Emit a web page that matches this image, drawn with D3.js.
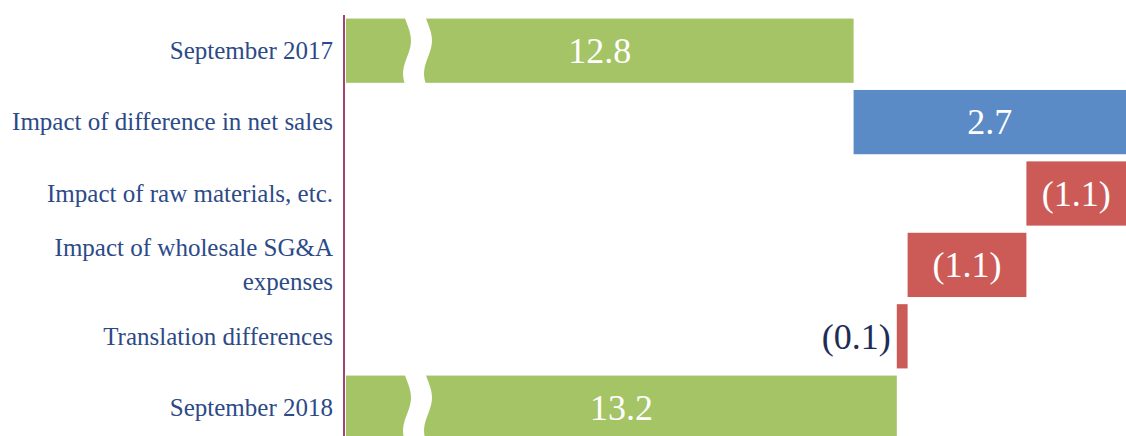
<!DOCTYPE html>
<html>
<head>
<meta charset="utf-8">
<script src="https://cdn.jsdelivr.net/npm/d3@7"></script>
<style>
  html, body { margin: 0; padding: 0; background: #fff; overflow: hidden; }
  svg { display: block; }
  text { font-family: "Liberation Serif", "DejaVu Serif", "Times New Roman", serif; }
</style>
</head>
<body>
<script>
// rows of the bridge, top to bottom
const categories = [
  ["September 2017"],
  ["Impact of difference in net sales"],
  ["Impact of raw materials, etc."],
  ["Impact of wholesale SG&A", "expenses"],
  ["Translation differences"],
  ["September 2018"]
];
const values = [12.8, 2.7, -1.1, -1.1, -0.1, 13.2];
const kinds = ["total", "step", "step", "step", "step", "total"];
const valueLabels = ["12.8", "2.7", "(1.1)", "(1.1)", "(0.1)", "13.2"];

const width = 1126, height = 436;
const axisX = 344;
const axisMin = 8.1; // broken axis: totals start here

// work out start/end of each bar (walk of the bridge)
let run = 0;
const bars = values.map((v, i) => {
  let a, b;
  if (kinds[i] === "total") { a = axisMin; b = v; run = v; }
  else { a = run; b = run + v; run = b; }
  return { i, v, lo: Math.min(a, b), hi: Math.max(a, b), kind: kinds[i], label: valueLabels[i] };
});

const x = d3.scaleLinear().domain([axisMin, 16]).range([346, 346 + 7.9 * 108]);
const y = d3.scaleBand().domain(d3.range(categories.length))
  .range([15, 443.4]).paddingInner(0.1).paddingOuter(0.05);

const color = d => d.kind === "total" ? "#a5c465" : (d.v > 0 ? "#5b8bc6" : "#cc5b58");

const svg = d3.select("body").append("svg")
  .attr("width", width)
  .attr("height", height);

// bars
svg.append("g")
  .selectAll("rect")
  .data(bars)
  .join("rect")
  .attr("x", d => x(d.lo))
  .attr("y", d => y(d.i))
  .attr("width", d => x(d.hi) - x(d.lo))
  .attr("height", y.bandwidth())
  .attr("fill", color);

// wavy white break on the two total bars
const breakX = 407;
bars.filter(d => d.kind === "total").forEach(d => {
  const top = y(d.i) - 1, bh = y.bandwidth() + 2;
  const wave = (x0, t) => x0 + 4 * Math.sin(t * Math.PI * 2 - 0.6);
  const n = 24;
  const left = d3.range(n + 1).map(k => [wave(breakX, k / n), top + bh * k / n]);
  const right = d3.range(n + 1).map(k => [wave(breakX + 21, k / n), top + bh * k / n]).reverse();
  svg.append("path")
    .attr("d", d3.line().curve(d3.curveBasis)(left) + "L" + d3.line().curve(d3.curveBasis)(right).slice(1) + "Z")
    .attr("fill", "#fff");
});

// value labels
const narrow = d => x(d.hi) - x(d.lo) < 40;
svg.append("g")
  .selectAll("text")
  .data(bars)
  .join("text")
  .attr("x", d => narrow(d) ? x(d.lo) - 6 : (x(d.lo) + Math.min(x(d.hi), width)) / 2)
  .attr("y", d => y(d.i) + y.bandwidth() / 2)
  .attr("dy", "0.34em")
  .attr("text-anchor", d => narrow(d) ? "end" : "middle")
  .attr("font-size", 36)
  .attr("fill", d => narrow(d) ? "#1e2d57" : "#fff")
  .text(d => d.label);

// category labels
const cat = svg.append("g")
  .selectAll("text")
  .data(categories)
  .join("text")
  .attr("text-anchor", "end")
  .attr("font-size", 25)
  .attr("fill", "#2c4a87")
  .attr("y", (d, i) => y(i) + y.bandwidth() / 2 - (d.length - 1) * 17);
cat.selectAll("tspan")
  .data(d => d)
  .join("tspan")
  .attr("x", 333)
  .attr("dy", (d, j) => j === 0 ? "0.33em" : 34)
  .text(d => d);

// vertical axis line
svg.append("line")
  .attr("x1", axisX).attr("x2", axisX)
  .attr("y1", 15).attr("y2", height)
  .attr("stroke", "#a3436f")
  .attr("stroke-width", 2);
</script>
</body>
</html>
